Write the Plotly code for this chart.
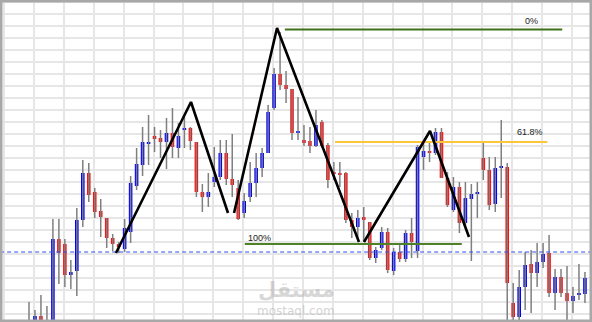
import plotly.graph_objects as go

# ---- candle data (index, price units) ----
opens = [-10, 2, 6, 0, -10, 83, 78, 47, 51, 102, 149, 130, 111, 104, 84, 78, 73, 90, 136, 157,
         178, 186, 184, 180, 189, 174, 192, 194, 180, 130, 125, 140, 145, 169, 143, 134, 109, 125, 139, 154,
         169, 214, 248, 237, 233, 189, 182, 181, 176, 200, 177, 150, 149, 149, 102, 95, 105, 100, 64, 74,
         90, 51, 70, 63, 89, 71, 165, 171, 169, 190, 144, 112, 135, 99, 123, 128, 164, 152, 118, 154,
         155, 19, 5, 35, 58, 49, 60, 69, 29, 45, 29, 21, 27, 28]
highs = [20, 12, 27, 16, 103, 103, 83, 62, 114, 162, 159, 134, 123, 104, 88, 80, 103, 146, 174, 195,
         207, 195, 192, 204, 214, 199, 205, 195, 180, 138, 149, 175, 182, 182, 188, 142, 129, 160, 169, 174,
         217, 254, 290, 251, 233, 225, 197, 195, 212, 202, 179, 160, 160, 150, 109, 112, 115, 100, 75, 95,
         94, 74, 79, 92, 104, 177, 179, 179, 194, 194, 150, 145, 140, 140, 138, 140, 179, 165, 165, 202,
         159, 39, 52, 70, 72, 79, 79, 87, 53, 53, 56, 35, 58, 50]
lows = [-14, -4, -4, -12, -14, 38, 35, 33, 26, 95, 120, 104, 85, 74, 71, 69, 70, 79, 132, 146,
        157, 170, 164, 153, 164, 164, 174, 172, 125, 110, 115, 135, 142, 137, 125, 102, 104, 120, 125, 145,
        169, 212, 232, 219, 182, 182, 176, 169, 175, 174, 134, 142, 135, 99, 84, 85, 80, 62, 59, 72,
        49, 47, 60, 60, 64, 64, 152, 160, 167, 144, 115, 110, 89, 95, 61, 104, 142, 112, 110, 124,
        -8, -4, -4, 12, 9, 35, 54, 25, 12, 25, 2, 9, 22, 19]
closes = [2, 6, 2, -8, 83, 69, 47, 50, 102, 149, 127, 110, 105, 84, 78, 75, 94, 139, 158, 180,
          180, 183, 180, 189, 175, 186, 194, 181, 130, 125, 130, 145, 169, 143, 137, 103, 121, 139, 154, 169,
          210, 248, 237, 233, 189, 191, 179, 176, 197, 176, 142, 148, 147, 102, 95, 104, 102, 64, 72, 90,
          52, 70, 63, 89, 80, 175, 171, 169, 190, 144, 117, 135, 99, 124, 128, 129, 152, 117, 154, 155,
          39, 5, 35, 57, 49, 60, 68, 29, 45, 29, 21, 26, 28, 44]

# ---- annotation levels ----
zigzag_x = [[14.55, 27.1, 33.29], [34.3, 41.49, 55.2], [56.04, 67.08, 73.6]]
zigzag_y = [[69, 220, 109], [109, 294, 80], [80, 191, 85]]
fib_labels = ["0%", "61.8%", "100%"]
fib_levels = [292.5, 180, 78]
fib_start = [42.8, 51.2, 36.1]
fib_end = [89.2, 86.7, 72.4]
fib_colors = ["#3f7318", "#ffc53d", "#4f8228"]
fib_label_x = [84.1, 83.8, 38.6]
fib_label_y = [301.5, 190.5, 84]
dashed_level = 70

UP, DOWN, WICK = "#0000ff", "#ff1010", "#7f7f7f"

n = len(opens)
idx = list(range(n))

fig = go.Figure()

# wicks
wx, wy = [], []
for i in idx:
    wx += [i, i, None]
    wy += [lows[i], highs[i], None]
fig.add_trace(go.Scatter(x=wx, y=wy, mode="lines", line=dict(color=WICK, width=1.5),
                         hoverinfo="skip"))

# bodies
base = [min(o, c) for o, c in zip(opens, closes)]
height = [max(abs(c - o), 1.6) for o, c in zip(opens, closes)]
colors = [UP if c >= o else DOWN for o, c in zip(opens, closes)]
fig.add_trace(go.Bar(x=idx, y=height, base=base, width=0.6,
                     marker=dict(color=colors, line=dict(width=0)), hoverinfo="skip"))

# dashed blue level
fig.add_trace(go.Scatter(x=[-6, 96], y=[dashed_level, dashed_level], mode="lines",
                         line=dict(color="#3050f0", width=1, dash="4px,3px"), hoverinfo="skip"))

# fib lines
for lv, s, e, col in zip(fib_levels, fib_start, fib_end, fib_colors):
    fig.add_trace(go.Scatter(x=[s, e], y=[lv, lv], mode="lines",
                             line=dict(color=col, width=2.2), hoverinfo="skip"))

# zigzag
for xs, ys in zip(zigzag_x, zigzag_y):
    fig.add_trace(go.Scatter(x=xs, y=ys, mode="lines",
                             line=dict(color="#000000", width=2.6), hoverinfo="skip"))

for lab, lx, ly in zip(fib_labels, fib_label_x, fib_label_y):
    fig.add_annotation(x=lx, y=ly, text=lab, showarrow=False,
                       font=dict(family="Liberation Sans, Arial", size=9, color="#222222"))

# watermark
fig.add_annotation(xref="paper", yref="paper", x=0.5, y=0.1, yanchor="middle",
                   text="<b>مستقل</b>", showarrow=False,
                   font=dict(family="DejaVu Sans", size=21, color="rgba(175,175,175,0.5)"))
fig.add_annotation(xref="paper", yref="paper", x=0.5, y=0.034, yanchor="middle",
                   text="mostaql.com", showarrow=False,
                   font=dict(family="DejaVu Sans", size=12, color="rgba(175,175,175,0.55)"))

# border
fig.add_shape(type="rect", xref="paper", yref="paper", x0=0, y0=0, x1=1, y1=1,
              line=dict(color="#a8a8a8", width=5), layer="above")

fig.update_layout(
    width=592, height=322, margin=dict(l=0, r=0, t=0, b=0),
    paper_bgcolor="white", plot_bgcolor="white", showlegend=False, hovermode=False,
    xaxis=dict(range=[-4.85, 94.18], tickmode="linear", tick0=0.836, dtick=5,
               showgrid=True, gridcolor="#e6e6e6", gridwidth=1.6, showticklabels=False,
               zeroline=False, ticks="", fixedrange=True),
    yaxis=dict(range=[0, 322], tickmode="linear", tick0=8, dtick=12,
               showgrid=True, gridcolor="#e6e6e6", gridwidth=1.6, showticklabels=False,
               zeroline=False, ticks="", fixedrange=True),
)

fig.write_html("out.html", config={"displayModeBar": False})
